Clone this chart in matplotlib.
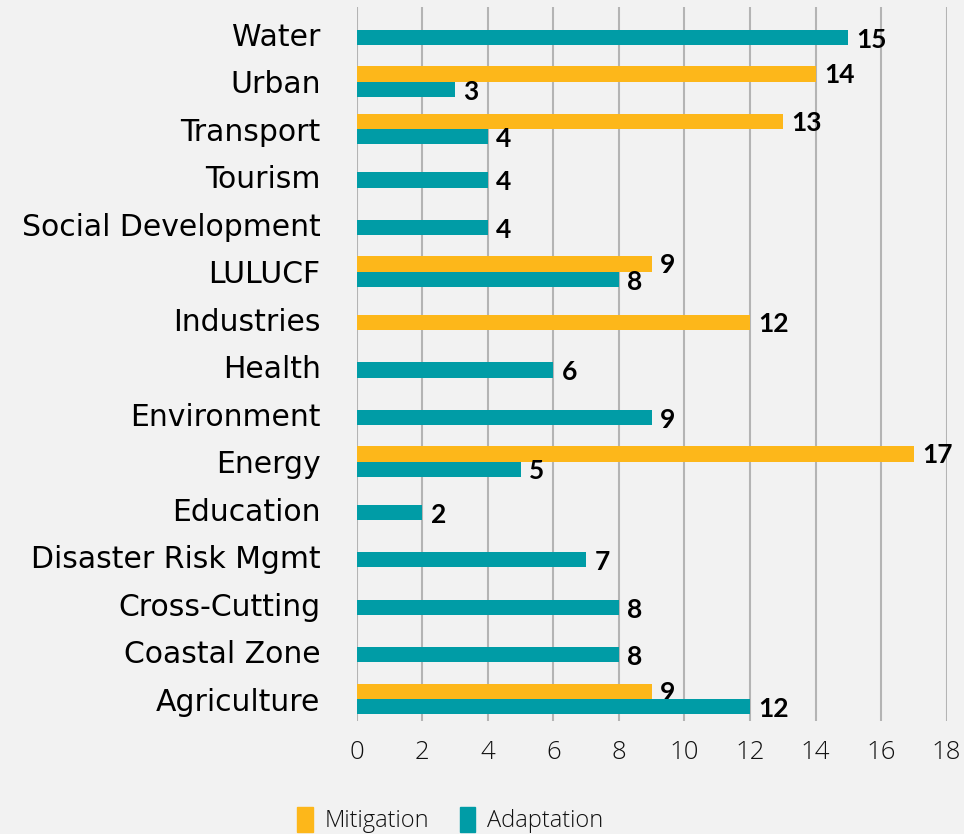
import numpy as np
import matplotlib.pyplot as plt
from matplotlib.patches import Patch

# sectors listed bottom to top
sectors = ["Agriculture", "Coastal Zone", "Cross-Cutting", "Disaster Risk Mgmt",
           "Education", "Energy", "Environment", "Health", "Industries", "LULUCF",
           "Social Development", "Tourism", "Transport", "Urban", "Water"]
mitigation = [9, np.nan, np.nan, np.nan, np.nan, 17, np.nan, np.nan, 12, 9,
              np.nan, np.nan, 13, 14, np.nan]
adaptation = [12, 8, 8, 7, 2, 5, 9, 6, np.nan, 8, 4, 4, 4, 3, 15]

col_mit = "#FDB71A"
col_ada = "#009CA6"
bg = "#F2F2F2"

plt.rcParams["font.family"] = ["DejaVu Sans"]

fig = plt.figure(figsize=(9.64, 8.34), dpi=100, facecolor=bg)
ax = fig.add_axes([0.370, 0.1355, 0.612, 0.856], facecolor=bg)

h = 0.32
single_shift = -0.07  # lone bars sit a touch below the label
y = np.arange(len(sectors))


def put_label(val, ypos):
    ax.annotate(f"{int(val)}", (val, ypos), xytext=(6, -1), textcoords="offset points",
                va="center", ha="left", fontsize=19, fontweight="bold",
                family="Lato", color="black")


for i, (m, a) in enumerate(zip(mitigation, adaptation)):
    both = not (np.isnan(m) or np.isnan(a))
    if not np.isnan(m):
        ym = i + h / 2 if both else i + single_shift
        ax.barh(ym, m, height=h, color=col_mit, zorder=3)
        put_label(m, ym)
    if not np.isnan(a):
        ya = i - h / 2 if both else i + single_shift
        ax.barh(ya, a, height=h, color=col_ada, zorder=3)
        put_label(a, ya - 0.02)

ax.set_xlim(0, 18)
ax.set_ylim(-0.463, 14.57)
ax.set_xticks(np.arange(0, 19, 2))
ax.set_yticks(y)
ax.set_yticklabels(sectors, fontsize=21.5)
ax.tick_params(axis="y", length=0, pad=26)
ax.tick_params(axis="x", length=0, pad=14)
for lbl in ax.get_xticklabels():
    lbl.set_family("Open Sans")
    lbl.set_fontweight("light")
    lbl.set_fontsize(18.5)
    lbl.set_color("#111111")
ax.grid(axis="x", color="#B4B4B4", lw=1.5, zorder=0)
ax.grid(axis="y", visible=False)
for s in ax.spines.values():
    s.set_visible(False)

handles = [Patch(color=col_mit, label="Mitigation"), Patch(color=col_ada, label="Adaptation")]
leg = fig.legend(handles=handles, loc="center", bbox_to_anchor=(0.467, 0.017), ncol=2,
                 frameon=False, prop={"family": "Open Sans", "weight": "light", "size": 17},
                 handlelength=0.65, handleheight=1.25, handletextpad=0.5,
                 columnspacing=1.3)
for t in leg.get_texts():
    t.set_color("#111111")

fig.savefig("out.png", dpi=100, facecolor=bg)
